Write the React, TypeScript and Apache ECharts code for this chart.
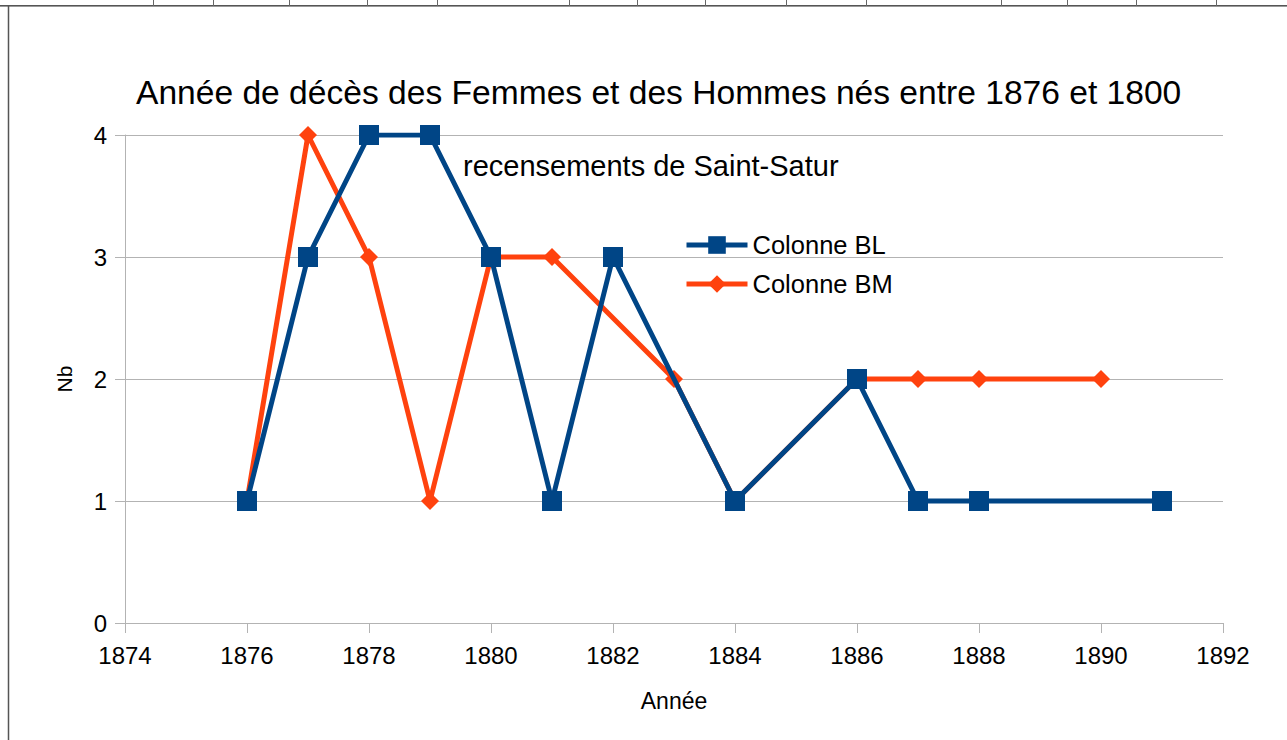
import React, { useEffect, useRef } from "react";
import * as echarts from "echarts";

const blYears = [1876, 1877, 1878, 1879, 1880, 1881, 1882, 1884, 1886, 1887, 1888, 1891];
const blValues = [1, 3, 4, 4, 3, 1, 3, 1, 2, 1, 1, 1];
const bmYears = [1876, 1877, 1878, 1879, 1880, 1881, 1883, 1884, 1886, 1887, 1888, 1890];
const bmValues = [1, 4, 3, 1, 3, 3, 2, 1, 2, 2, 2, 2];
const cellLinesX = [153, 213, 289, 367, 437, 569, 637, 705, 786, 866, 1001, 1067, 1136, 1216];

const FONT = "Liberation Sans, Arial, sans-serif";

export default function App() {
  const ref = useRef<HTMLDivElement>(null);
  useEffect(() => {
    if (!ref.current) return;
    const chart = echarts.init(ref.current, undefined, { renderer: "svg" });
    const graphics: any[] = [
      { type: "line", shape: { x1: 0, y1: 5.5, x2: 1287, y2: 5.5 }, style: { stroke: "#555", lineWidth: 1 }, z: 10 },
      { type: "line", shape: { x1: 0, y1: 6.5, x2: 1287, y2: 6.5 }, style: { stroke: "#999", lineWidth: 1 }, z: 10 },
      { type: "line", shape: { x1: 8.5, y1: 6, x2: 8.5, y2: 740 }, style: { stroke: "#555", lineWidth: 1.5 }, z: 10 },
      ...cellLinesX.map((x) => ({
        type: "line",
        shape: { x1: x + 0.5, y1: 0, x2: x + 0.5, y2: 6 },
        style: { stroke: "#666", lineWidth: 1 },
        z: 10,
      })),
    ];
    chart.setOption({
      animation: false,
      backgroundColor: "#ffffff",
      textStyle: { fontFamily: FONT },
      title: [
        {
          text: "Année de décès des Femmes et des Hommes nés entre 1876 et 1800",
          left: 136,
          top: 76,
          padding: 0,
          textStyle: { fontFamily: FONT, fontSize: 33.6, fontWeight: "normal", color: "#000", lineHeight: 33 },
        },
        {
          text: "recensements de Saint-Satur",
          left: 463,
          top: 151,
          padding: 0,
          textStyle: { fontFamily: FONT, fontSize: 29, fontWeight: "normal", color: "#000", lineHeight: 29 },
        },
      ],
      legend: {
        orient: "vertical",
        left: 684,
        top: 232,
        padding: 0,
        itemWidth: 61,
        itemHeight: 22,
        itemGap: 13,
        lineStyle: { width: 5 },
        textStyle: { fontFamily: FONT, fontSize: 25.5, color: "#000", lineHeight: 25 },
        data: ["Colonne BL", "Colonne BM"],
      },
      grid: { left: 125, right: 64, top: 135, bottom: 117, containLabel: false },
      xAxis: {
        type: "value",
        min: 1874,
        max: 1892,
        interval: 2,
        name: "Année",
        nameLocation: "middle",
        nameGap: 66,
        nameTextStyle: { fontFamily: FONT, fontSize: 23, color: "#000" },
        axisLine: { show: true, lineStyle: { color: "#b3b3b3", width: 1 } },
        axisTick: { show: true, length: 10, lineStyle: { color: "#b3b3b3" } },
        axisLabel: { fontFamily: FONT, fontSize: 24, color: "#000", margin: 20, formatter: (v: number) => String(v) },
        splitLine: { show: false },
      },
      yAxis: {
        type: "value",
        min: 0,
        max: 4,
        interval: 1,
        name: "Nb",
        nameLocation: "middle",
        nameGap: 50,
        nameTextStyle: { fontFamily: FONT, fontSize: 21, color: "#000" },
        axisLine: { show: true, lineStyle: { color: "#b3b3b3", width: 1 } },
        axisTick: { show: true, length: 10, lineStyle: { color: "#b3b3b3" } },
        axisLabel: { fontFamily: FONT, fontSize: 24, color: "#000", margin: 18 },
        splitLine: { show: true, lineStyle: { color: "#b3b3b3", width: 1 } },
      },
      series: [
        {
          name: "Colonne BL",
          type: "line",
          z: 3,
          data: blYears.map((y, i) => [y, blValues[i]]),
          symbol: "rect",
          symbolSize: 20,
          lineStyle: { color: "#004586", width: 5 },
          itemStyle: { color: "#004586" },
        },
        {
          name: "Colonne BM",
          type: "line",
          z: 2,
          data: bmYears.map((y, i) => [y, bmValues[i]]),
          symbol: "diamond",
          symbolSize: 18,
          lineStyle: { color: "#ff420e", width: 5 },
          itemStyle: { color: "#ff420e" },
        },
      ],
      graphic: graphics,
    });
    return () => chart.dispose();
  }, []);
  return (
    <div
      ref={ref}
      style={{ position: "fixed", left: 0, top: 0, width: 1287, height: 740, background: "#fff" }}
    />
  );
}
